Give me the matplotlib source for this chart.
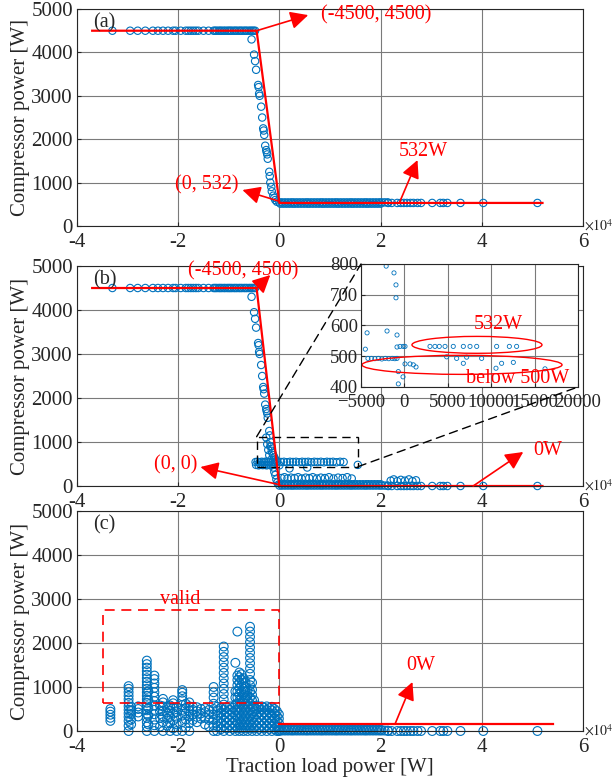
import numpy as np
import matplotlib
matplotlib.use('Agg')
import matplotlib.pyplot as plt
from matplotlib.patches import Ellipse, Rectangle, ConnectionPatch
from matplotlib.ticker import FuncFormatter

plt.rcParams['font.family'] = 'serif'
plt.rcParams['font.serif'] = ['Liberation Serif', 'DejaVu Serif']
plt.rcParams['mathtext.fontset'] = 'stix'

BLUE = '#0072BD'
RED = '#FF0000'
TXT = '#262626'

# ---- data (x in W, y in W) ----
# flat part at 4500 W (panels a, b)
high_x = [-33000, -29500, -28000, -26500, -25000, -24000, -23000, -22000, -21000, -20500,
          -19500, -18500, -18000, -17500, -17000, -16500, -16000, -15000, -14000, -13000,
          -12700, -12400, -12000, -11700, -11400, -11000, -10700, -10300, -10000, -9700,
          -9400, -9000, -8700, -8400, -8000, -7700, -7400, -7000, -6700, -6400, -6000,
          -5700, -5400, -5100, -4800]
high_level = 4500

# steep transition (panels a, b)
slope_x = [-5500, -5000, -4800, -4600, -4200, -4100, -4000, -3900, -3600, -3400, -3200,
           -3100, -3000, -2800, -2600, -2500, -2400, -2300, -2000, -1900, -1800, -1600,
           -1500, -1200, -1000, -800, -500]
slope_y = [4300, 3950, 3800, 3600, 3250, 3200, 3050, 3000, 2750, 2500, 2250,
           2200, 2100, 1850, 1750, 1700, 1650, 1550, 1250, 1150, 1000, 900,
           800, 700, 650, 600, 560]

# dense low band, two rows (panel a at ~532 W, panels b, c at 0 W)
band_x1 = [0, 500, 1100, 1700, 2300, 2800, 3400, 4000, 4600, 5200, 5700, 6300, 6900, 7500,
           8100, 8600, 9200, 9800, 10400, 11000, 11500, 12100, 12700, 13300, 13900, 14400,
           15000, 15600, 16200, 16800, 17300, 17900, 18500, 19100, 19700, 20200, 20800, 21400]
band_x2 = [200, 800, 1400, 2000, 2600, 3100, 3700, 4300, 4900, 5500, 6000, 6600, 7200, 7800,
           8400, 8900, 9500, 10100, 10700, 11300, 11800, 12400, 13000, 13600, 14200, 14700,
           15300, 15900, 16500, 17100, 17600, 18200, 18800, 19400, 20000]
sparse_x = [21500, 22200, 23300, 24000, 24600, 25200, 25900, 26500, 27300, 28000, 30200,
            31800, 32400, 33200, 35800, 40300, 51000]

# panel b: points around the 500 W level and residual points
b_mid_x = [-4700, -4300, -3900, -3500, -3000, -2600, -2200, -1800, -1300, -900, -400, 300,
           900, 1500, 2100, 2700, 3300, 3900, 4500, 5100, 5700, 6300, 6900, 7500, 8200,
           8800, 9400, 10000, 10600, 11300, 12000, 12700, 15500,
           -4600, -4100, -3700, -3300, -2900, -2500, -2100, -1700, -1300, 0, 2000, 5500,
           400, 1000, 1600, 2300, 3000, 3700, 4400, 5200, 5900, 6600, 7400, 8200, 9000,
           9800, 10700, 11600, 12500, 13400, 14300,
           22000, 22600, 23300, 24000, 24800, 25600, 26300, 27000,
           -2600, -2400, -2200, -2000, -1800, -1600, -1400, -1200, -1000, -800, -600, -400, -200]
b_mid_y = [545, 550, 540, 550, 545, 555, 540, 550, 545, 540, 550, 545,
           550, 540, 550, 545, 550, 540, 550, 545, 550, 540, 550, 545, 550,
           540, 550, 545, 550, 540, 550, 545, 480,
           480, 470, 485, 475, 480, 470, 485, 475, 480, 470, 400, 420,
           180, 200, 170, 190, 180, 200, 170, 190, 180, 200, 170, 190, 180,
           200, 170, 190, 180, 200, 170,
           120, 150, 110, 140, 120, 150, 110, 130,
           1100, 950, 820, 700, 900, 600, 750, 420, 320, 250, 150, 80, 30]

# inset of panel b
ins_x = [-2100, -1200, -970, -970, -4300, -2000, -850, -850, -500, -130, 70, -4500,
         -4200, -3800, -3400, -3000, -2600, -2200, -1800, -1400, -1100, -850,
         -700, -700, -160, 70, 650, 1030, 1340,
         2950, 3520, 4020, 4680, 5630, 6790, 7560, 8330, 10630, 12090, 12930,
         4870, 6020, 6790, 7170, 8900, 10550, 11200, 12550, 16200]
ins_y = [793, 771, 732, 690, 576, 582, 569, 530, 532, 532, 532, 523,
         493, 493, 492, 493, 491, 493, 492, 493, 492, 493,
         450, 410, 433, 475, 475, 472, 465,
         532, 532, 532, 532, 532, 532, 532, 532, 532, 532, 532,
         498, 493, 477, 497, 493, 461, 477, 480, 459]

# panel c: columns of points (x, list of y)
c_col_x = [-33400, -29800, -29300, -27900, -26200, -25900, -24700, -23600, -23000, -22200,
           -21600, -21000, -20300, -19200, -18500, -17800, -17100, -16300, -15500, -14700,
           -13900, -13000, -12300, -11600, -11000, -10400, -9800, -9200, -8700, -8300,
           -7900, -7500, -7100, -6700, -6300, -5800, -5400, -5000, -4500, -4000, -3500,
           -3000, -2500, -2000, -1500, -1000, -500, -100]
c_col_y = [
    [230, 300, 370, 440, 500],
    [0, 120, 230, 320, 400, 480, 560, 640, 720, 800, 880, 960, 1020],
    [150, 260, 380, 470, 550],
    [330, 420, 500, 560],
    [0, 100, 200, 300, 390, 470, 560, 640, 720, 800, 880, 960, 1040, 1120, 1200, 1280,
     1360, 1440, 1520, 1600],
    [150, 350, 520, 700, 900],
    [0, 130, 260, 380, 480, 580, 680, 780, 880, 980, 1080, 1180, 1260],
    [100, 300, 450, 580],
    [0, 200, 330, 450, 560, 650, 730],
    [120, 280, 420, 540],
    [0, 180, 320, 460, 580],
    [60, 240, 400, 530, 630, 700],
    [0, 150, 300, 430, 540],
    [0, 200, 350, 480, 590, 700, 790, 870, 930],
    [80, 260, 400, 520, 620],
    [0, 180, 330, 460, 560, 650],
    [250, 380, 480, 550],
    [200, 320, 450, 540],
    [280, 400, 500],
    [150, 300, 430, 520],
    [100, 250, 380, 480],
    [0, 130, 260, 380, 500, 620, 760, 880, 1000],
    [0, 110, 230, 350, 470, 550],
    [40, 170, 290, 410, 520],
    [0, 120, 250, 370, 490, 600, 720, 840, 960, 1080, 1200, 1320, 1440, 1560, 1680, 1800, 1920],
    [60, 190, 310, 430, 540],
    [0, 130, 250, 370, 480, 560],
    [50, 180, 300, 420, 530],
    [0, 120, 240, 360, 470, 600, 760, 900, 1550],
    [60, 200, 340, 480, 620, 760, 900, 1040, 1160, 1260, 2260],
    [0, 130, 270, 410, 550, 690, 830, 970, 1100, 1220, 1330],
    [60, 200, 340, 480, 620, 760, 900, 1040, 1170, 1290],
    [0, 130, 270, 410, 550, 690, 830, 960, 1090, 1200],
    [60, 200, 340, 480, 620, 760, 890, 1000, 1100],
    [0, 130, 270, 410, 550, 680, 800, 910],
    [60, 200, 340, 480, 620, 760, 900, 1040, 1160, 1300, 1420, 1540, 1660, 1780, 1900,
     2020, 2140, 2260, 2370],
    [0, 130, 270, 410, 550, 690, 820, 940, 1100],
    [60, 190, 320, 450, 560, 700],
    [0, 120, 250, 380, 500, 580],
    [50, 180, 300, 420, 530],
    [0, 120, 240, 360, 480, 560],
    [60, 180, 300, 420, 530],
    [0, 120, 240, 360, 480, 560],
    [50, 170, 290, 410, 520],
    [0, 120, 240, 360, 470, 550],
    [40, 160, 280, 400, 500],
    [0, 110, 230, 340, 450],
    [0, 80, 180, 280, 380],
]

# fitted piecewise lines
line_a_x = [-37000, -4500, 0, 52000]
line_a_y = [4500, 4500, 532, 532]
line_b_x = [-37000, -4500, 0, 52000]
line_b_y = [4500, 4500, 0, 0]
line_c_x = [0, 54000]
line_c_y = [170, 170]

# ---- figure ----
fig = plt.figure(figsize=(6.13, 7.84), dpi=100)
ax_a = fig.add_axes([0.1256, 0.7117, 0.8254, 0.2768])
ax_b = fig.add_axes([0.1256, 0.3801, 0.8254, 0.2806])
ax_c = fig.add_axes([0.1256, 0.0676, 0.8254, 0.2806])


def style(ax):
    ax.set_xlim(-40000, 60000)
    ax.set_ylim(0, 5000)
    ax.set_xticks(np.arange(-40000, 60001, 20000))
    ax.set_yticks(np.arange(0, 5001, 1000))
    ax.xaxis.set_major_formatter(FuncFormatter(lambda v, p: f'{v / 1e4:g}'))
    ax.grid(True, color='#7a7a7a', lw=0.8)
    ax.set_axisbelow(True)
    ax.tick_params(direction='in', length=3, labelsize=15, colors=TXT)
    ax.tick_params(axis='x', pad=5)
    ax.tick_params(axis='y', pad=3)
    for s in ax.spines.values():
        s.set_color(TXT)
        s.set_linewidth(0.8)
    ax.set_ylabel('Compressor power [W]', fontsize=15, color=TXT, labelpad=1)
    ax.text(1.002, 0.0, r'$\times10^4$', transform=ax.transAxes, fontsize=10,
            ha='left', va='center', color=TXT)


def arrow(ax, tail, head):
    ax.annotate('', xy=head, xytext=tail,
                arrowprops=dict(arrowstyle='-|>,head_length=0.9,head_width=0.45',
                                color=RED, lw=1.2, mutation_scale=12,
                                shrinkA=0, shrinkB=0), annotation_clip=False)


sc = dict(facecolors='none', edgecolors=BLUE, linewidths=0.8)

# (a)
style(ax_a)
ax_a.scatter(high_x, np.full(len(high_x), high_level), s=28, **sc)
ax_a.scatter(slope_x, slope_y, s=28, **sc)
ax_a.scatter(band_x1, np.full(len(band_x1), 545), s=28, **sc)
ax_a.scatter(band_x2, np.full(len(band_x2), 515), s=28, **sc)
ax_a.scatter(sparse_x, np.full(len(sparse_x), 532), s=28, **sc)
ax_a.plot(line_a_x, line_a_y, color=RED, lw=1.6)
ax_a.text(0.032, 0.935, '(a)', transform=ax_a.transAxes, fontsize=14.5, color=TXT, va='center')
arrow(ax_a, (-4500, 4500), (5700, 4860))
ax_a.text(8300, 4860, '(-4500, 4500)', color=RED, fontsize=14.5, va='center', ha='left')
arrow(ax_a, (-300, 580), (-7300, 830))
ax_a.text(-8100, 945, '(0, 532)', color=RED, fontsize=14.5, va='center', ha='right')
arrow(ax_a, (23700, 532), (27300, 1520))
ax_a.text(28500, 1720, '532W', color=RED, fontsize=14.5, va='center', ha='center')

# (b)
style(ax_b)
ax_b.scatter(high_x, np.full(len(high_x), high_level), s=28, **sc)
ax_b.scatter(slope_x, slope_y, s=28, **sc)
ax_b.scatter(b_mid_x, b_mid_y, s=28, **sc)
ax_b.scatter(band_x1, np.full(len(band_x1), 10), s=28, clip_on=False, **sc)
ax_b.scatter(band_x2, np.full(len(band_x2), 40), s=28, clip_on=False, **sc)
ax_b.scatter(sparse_x, np.full(len(sparse_x), 0), s=28, clip_on=False, **sc)
ax_b.plot(line_b_x, line_b_y, color=RED, lw=1.6, clip_on=False)
ax_b.text(0.032, 0.935, '(b)', transform=ax_b.transAxes, fontsize=14.5, color=TXT, va='center')
arrow(ax_b, (-4500, 4500), (-1800, 4795))
ax_b.text(-7100, 4886, '(-4500, 4500)', color=RED, fontsize=14.5, va='center', ha='center')
arrow(ax_b, (0, 30), (-15600, 432))
ax_b.text(-16200, 477, '(0, 0)', color=RED, fontsize=14.5, va='center', ha='right')
arrow(ax_b, (38300, 0), (48200, 773))
ax_b.text(50200, 818, '0W', color=RED, fontsize=14.5, va='center', ha='left')
ax_b.add_patch(Rectangle((-4500, 440), 20050, 680, fill=False, ec='k', lw=1.0,
                         ls=(0, (6, 4))))

# inset
ax_in = fig.add_axes([0.5889, 0.5064, 0.354, 0.1569])
ax_in.set_facecolor('white')
ax_in.set_xlim(-5000, 20000)
ax_in.set_ylim(400, 800)
ax_in.set_xticks(np.arange(-5000, 20001, 5000))
ax_in.set_yticks(np.arange(400, 801, 100))
ax_in.grid(True, color='#7a7a7a', lw=0.8)
ax_in.set_axisbelow(True)
ax_in.tick_params(direction='in', length=3, labelsize=13.5, colors=TXT)
ax_in.tick_params(axis='x', pad=5)
ax_in.tick_params(axis='y', pad=2)
for s in ax_in.spines.values():
    s.set_color(TXT)
    s.set_linewidth(0.8)
ax_in.scatter(ins_x, ins_y, s=9, facecolors='none', edgecolors=BLUE, linewidths=0.6)
ax_in.add_patch(Ellipse((8360, 537), 14980, 55, fill=False, ec=RED, lw=1.0))
ax_in.add_patch(Ellipse((6640, 472), 23040, 62, fill=False, ec=RED, lw=1.0, clip_on=False))
ax_in.text(10780, 602, '532W', color=RED, fontsize=14.5, ha='center', va='center')
ax_in.text(13100, 429, 'below 500W', color=RED, fontsize=14.5, ha='center', va='center')

for pa, pb in [((-4500, 1120), (-5000, 800)), ((15550, 440), (20000, 400))]:
    con = ConnectionPatch(xyA=pa, coordsA=ax_b.transData, xyB=pb, coordsB=ax_in.transData,
                          color='k', lw=1.0, ls=(0, (6, 4)))
    fig.add_artist(con)

# (c)
style(ax_c)
for cx, cys in zip(c_col_x, c_col_y):
    ax_c.scatter(np.full(len(cys), cx), cys, s=40, clip_on=False, **sc)
ax_c.scatter(band_x1, np.full(len(band_x1), 10), s=40, clip_on=False, **sc)
ax_c.scatter(band_x2, np.full(len(band_x2), 30), s=40, clip_on=False, **sc)
ax_c.scatter(sparse_x, np.full(len(sparse_x), 0), s=40, clip_on=False, **sc)
ax_c.plot(line_c_x, line_c_y, color=RED, lw=1.6)
ax_c.text(0.032, 0.935, '(c)', transform=ax_c.transAxes, fontsize=14.5, color=TXT, va='center')
ax_c.add_patch(Rectangle((-34800, 636), 34800, 2114, fill=False, ec=RED, lw=1.2,
                         ls=(0, (6, 4))))
ax_c.text(-19600, 2980, 'valid', color=RED, fontsize=14.5, ha='center', va='center')
arrow(ax_c, (22900, 170), (26300, 1114))
ax_c.text(27900, 1500, '0W', color=RED, fontsize=14.5, ha='center', va='center')
ax_c.set_xlabel('Traction load power [W]', fontsize=15, color=TXT, labelpad=1)

fig.savefig('out.png', dpi=100)
